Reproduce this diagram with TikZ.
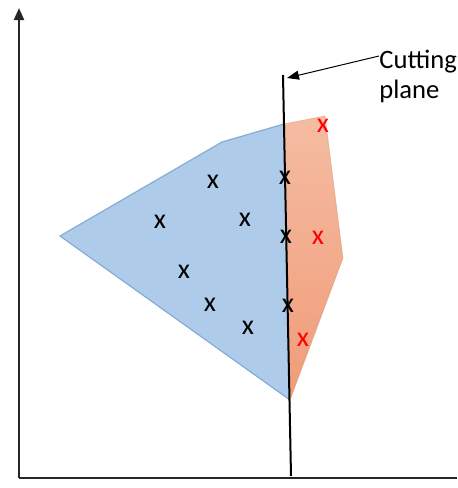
\documentclass[tikz,border=0pt]{standalone}
\usepackage{fontspec}
\setmainfont{Carlito}
\usetikzlibrary{arrows.meta, positioning, calc}

\definecolor{cellblue}{RGB}{174,203,234}
\definecolor{celledge}{RGB}{135,172,212}
\definecolor{celltop}{RGB}{245,188,162}
\definecolor{cellbot}{RGB}{240,156,120}

\tikzset{
  cross/.style={font=\fontsize{14}{14}\selectfont, inner sep=0pt},
  redcross/.style={cross, text=red},
  axis/.style={line width=1pt, black!85}
}

\begin{document}
\begin{tikzpicture}[x=0.5pt, y=-0.5pt]
        \useasboundingbox (0,0) rectangle (457,488);

        % ==========================================
        % Axes
        % ==========================================
        \coordinate (origin) at (19,478);
        \coordinate (ytop) at (19,8);
        \coordinate (xend) at (457,478);
        \draw[axis, -{Triangle[width=5pt,length=6pt]}] (origin) -- (ytop);
        \draw[axis] (origin) -- (xend);

        % ==========================================
        % Cell, split by the cutting plane
        % ==========================================
        \coordinate (pl) at (60,236);
        \coordinate (pt) at (222,142);
        \coordinate (cuttop) at (284,124);
        \coordinate (pr) at (325,116);
        \coordinate (pe) at (343,258);
        \coordinate (cutbot) at (290,400);

        % Left part
        \fill[cellblue] (pl) -- (pt) -- (cuttop) -- (cutbot) -- cycle;
        \draw[celledge, line width=0.6pt] (cutbot) -- (pl) -- (pt) -- (cuttop);

        % Right part
        \shade[top color=celltop, bottom color=cellbot]
              (cuttop) -- (pr) -- (pe) -- (cutbot) -- cycle;
        \draw[celltop!80!black!60!cellbot, line width=0.4pt, opacity=0.5]
              (cuttop) -- (pr) -- (pe) -- (cutbot);

        % ==========================================
        % Cutting plane
        % ==========================================
        \coordinate (planetop) at (283,75);
        \coordinate (planebot) at (291,476);
        \draw[line width=1pt] (planetop) -- (planebot);

        \node[font=\fontsize{13.3}{15}\selectfont, align=left, anchor=north west,
              inner sep=0pt] (label) at (379,50) {Cutting\\plane};
        \draw[line width=0.5pt, -{Triangle[width=4.5pt,length=6pt]}]
              (label.west |- 0,56) coordinate (lbl) -- ($(planetop)+(4,3)$);

        % ==========================================
        % Points
        % ==========================================
        \node[cross] (b1) at (213,182) {x};
        \node[cross] (b2) at (160,222) {x};
        \node[cross] (b3) at (245,220) {x};
        \node[cross] (b4) at (184,272) {x};
        \node[cross] (b5) at (210,305) {x};
        \node[cross] (b6) at (248,328) {x};
        \node[cross] (c1) at (285,178) {x};
        \node[cross] (c2) at (286,237) {x};
        \node[cross] (c3) at (288,306) {x};

        \node[redcross] (r1) at (323,126) {x};
        \node[redcross] (r2) at (318,238) {x};
        \node[redcross] (r3) at (303,340) {x};

    \end{tikzpicture}
\end{document}
